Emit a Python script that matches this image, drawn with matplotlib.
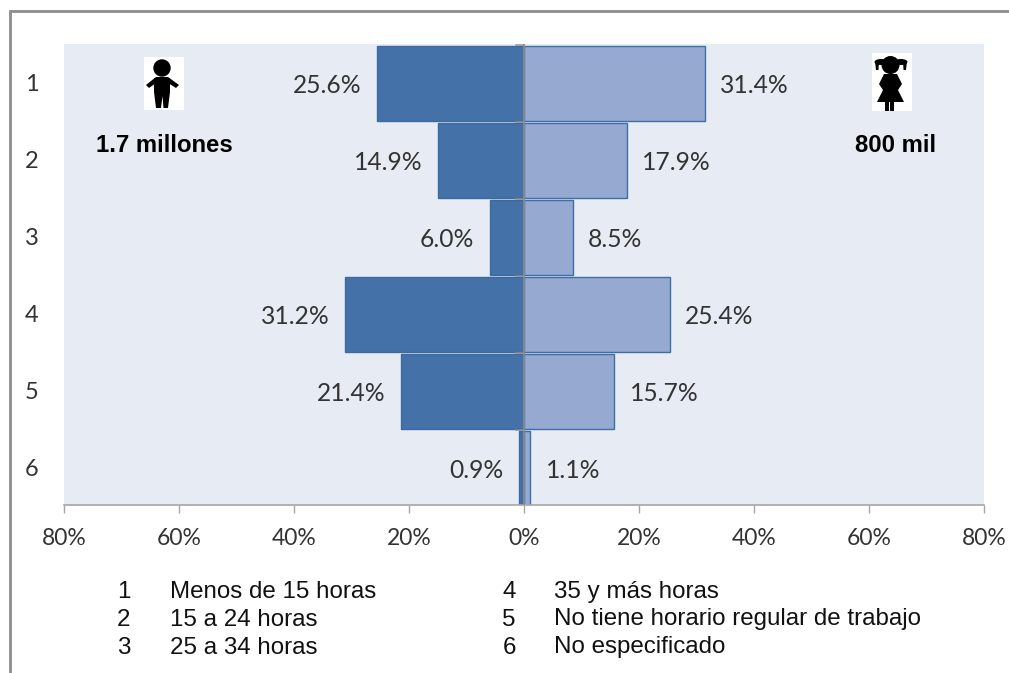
import matplotlib
matplotlib.use("Agg")
import matplotlib.pyplot as plt
from matplotlib.patches import Rectangle, Circle, Polygon, Ellipse

categories = [1, 2, 3, 4, 5, 6]
hombres = [25.6, 14.9, 6.0, 31.2, 21.4, 0.9]
mujeres = [31.4, 17.9, 8.5, 25.4, 15.7, 1.1]
xticks = [-80, -60, -40, -20, 0, 20, 40, 60, 80]
legend_left = [("1", "Menos de 15 horas"), ("2", "15 a 24 horas"), ("3", "25 a 34 horas")]
legend_right = [("4", "35 y más horas"), ("5", "No tiene horario regular de trabajo"), ("6", "No especificado")]

W, H = 1009, 673
BODY = "Lato"
ARIAL = "Liberation Sans"
fig = plt.figure(figsize=(W / 100, H / 100), dpi=100, facecolor="white")
ax = fig.add_axes([64 / W, (H - 505) / H, 920 / W, 461 / H], facecolor="#E7ECF4")
ax.barh(categories, [-v for v in hombres], height=0.97, color="#4472A8", edgecolor="#3C6AA0", linewidth=1)
ax.barh(categories, mujeres, height=0.97, color="#95A9D1", edgecolor="#3F6DA6", linewidth=1)
ax.set_xlim(-80, 80)
ax.set_ylim(6.474, 0.487)

for s in ["top", "right", "left"]:
    ax.spines[s].set_visible(False)
ax.spines["bottom"].set_color("#A6A6A6")
ax.spines["bottom"].set_linewidth(1.2)
ax.axvline(0, color="#8C8C8C", lw=1.2, zorder=5)
ax.set_xticks(xticks)
ax.set_xticklabels([f"{abs(t)}%" for t in xticks], fontfamily=BODY, fontsize=16.5, color="#333333")
ax.tick_params(axis="x", length=6, width=1, color="#A6A6A6", pad=10.5)
ax.set_yticks([])

for c in categories:
    ax.annotate(str(c), (0, c), xycoords=("axes fraction", "data"), xytext=(-23, -1),
                textcoords="offset points", ha="center", va="center",
                fontfamily=BODY, fontsize=17, color="#333333")
for b in [0.5, 1.5, 2.5, 3.5, 4.5, 5.5]:
    ax.annotate("", (0, b), xytext=(-6, 0), textcoords="offset points", xycoords="data",
                arrowprops=dict(arrowstyle="-", color="#8C8C8C", lw=1, shrinkA=0, shrinkB=0), zorder=5)

for c, h, m in zip(categories, hombres, mujeres):
    ax.annotate(f"{h:.1f}%", (-h, c), xytext=(-11, -1.5), textcoords="offset points", ha="right", va="center",
                fontfamily=BODY, fontsize=17.7, color="#333333")
    ax.annotate(f"{m:.1f}%", (m, c), xytext=(11, -1.5), textcoords="offset points", ha="left", va="center",
                fontfamily=BODY, fontsize=17.7, color="#333333")

ov = fig.add_axes([0, 0, 1, 1], facecolor="none")
ov.set_xlim(0, W)
ov.set_ylim(H, 0)
ov.axis("off")
ov.plot([10, 10, W], [H, 10.5, 10.5], color="#8C8C8C", lw=2, solid_joinstyle="miter")

k = "black"
# boy
ov.add_patch(Rectangle((144, 57), 40, 53, fc="white", ec="none"))
ov.add_patch(Circle((162, 68), 8.7, fc=k))
ov.add_patch(Polygon([[154, 78], [170, 78], [170, 92], [168, 108], [163.5, 108], [162.5, 96], [161, 108],
                      [156, 108], [154, 92]], fc=k))
ov.add_patch(Polygon([[156, 77], [168, 77], [179, 85], [176, 88], [168, 83], [156, 83], [149, 88], [146, 85]], fc=k))
# girl
ov.add_patch(Rectangle((872, 53), 40, 58, fc="white", ec="none"))
ov.add_patch(Circle((890.5, 65), 9, fc=k))
ov.add_patch(Ellipse((881, 62), 13, 6, fc=k))
ov.add_patch(Ellipse((901, 62), 13, 6, fc=k))
ov.add_patch(Polygon([[875, 61], [879, 61], [878.5, 70], [876, 70]], fc=k))
ov.add_patch(Polygon([[903, 61], [907, 61], [906, 70], [903.5, 70]], fc=k))
ov.add_patch(Polygon([[884, 74], [897, 74], [902, 84], [898, 90], [904, 102], [877, 102], [883, 90], [879, 84]], fc=k))
ov.add_patch(Rectangle((885, 102), 3.5, 9, fc=k))
ov.add_patch(Rectangle((890, 102), 3.5, 9, fc=k))

ov.text(164, 146, "1.7 millones", ha="center", va="center", fontfamily=ARIAL, fontweight="bold", fontsize=17.2, color="black")
ov.text(895.5, 146, "800 mil", ha="center", va="center", fontfamily=ARIAL, fontweight="bold", fontsize=17.2, color="black")

ys = [592, 619.5, 647.5]
for y, (n, t) in zip(ys, legend_left):
    ov.text(124, y, n, ha="center", va="center", fontfamily=ARIAL, fontsize=17.4, color="#111111")
    ov.text(170, y, t, ha="left", va="center", fontfamily=ARIAL, fontsize=17.4, color="#111111")
for y, (n, t) in zip(ys, legend_right):
    ov.text(509, y, n, ha="center", va="center", fontfamily=ARIAL, fontsize=17.4, color="#111111")
    ov.text(554, y, t, ha="left", va="center", fontfamily=ARIAL, fontsize=17.4, color="#111111")

fig.savefig("out.png", dpi=100)
